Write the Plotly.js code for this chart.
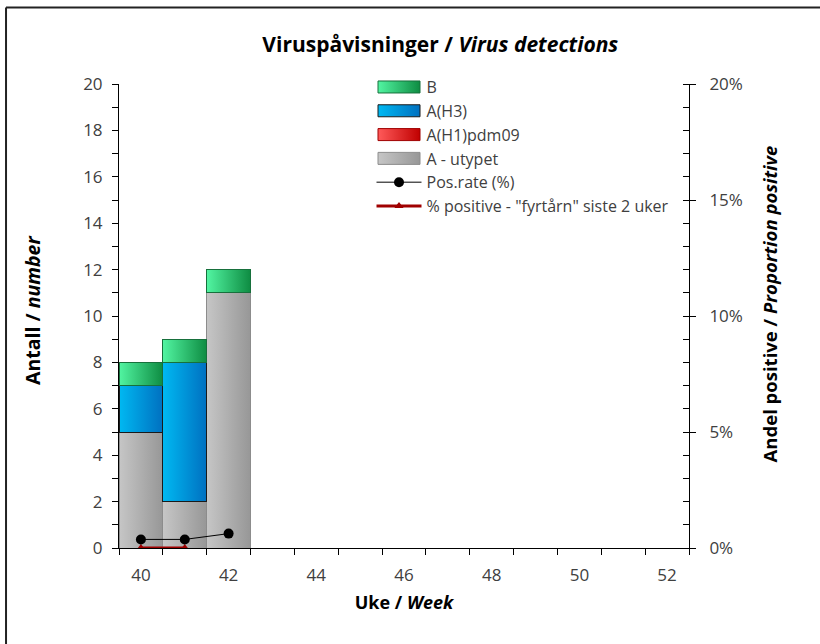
<!DOCTYPE html>
<html>
<head>
<meta charset="utf-8">
<script src="https://cdn.plot.ly/plotly-3.0.1.min.js"></script>
<style>html,body{margin:0;padding:0;background:#fff;}#chart{width:820px;height:644px;}</style>
</head>
<body>
<div id="chart"></div>
<script>
const weeks = [40, 41, 42];
const bValues = [1, 1, 1];
const aH3Values = [2, 6, 0];
const aH1pdm09Values = [0, 0, 0];
const aUntypedValues = [5, 2, 11];
const posRate = [0.0037, 0.0037, 0.0062];
const fyrtarnRate = [0, 0, null];
const xTickVals = [40, 42, 44, 46, 48, 50, 52];
const xTickText = ['40', '42', '44', '46', '48', '50', '52'];
const xBoundaries = [39.5, 40.5, 41.5, 42.5, 43.5, 44.5, 45.5, 46.5, 47.5, 48.5, 49.5, 50.5, 51.5, 52.5];

const FONT = '"Open Sans", "Noto Sans", sans-serif';
const TXT = '#404040';

const traces = [
  {type: 'bar', name: 'A - utypet', x: weeks, y: aUntypedValues, legendrank: 4,
   marker: {color: '#ADADAD', line: {color: '#8C8C8C', width: 1}}},
  {type: 'bar', name: 'A(H1)pdm09', x: weeks, y: aH1pdm09Values, legendrank: 3,
   marker: {color: '#E82020', line: {color: '#A00000', width: 1}}},
  {type: 'bar', name: 'A(H3)', x: weeks, y: aH3Values, legendrank: 2,
   marker: {color: '#0092D6', line: {color: '#1A1A1A', width: 1}}},
  {type: 'bar', name: 'B', x: weeks, y: bValues, legendrank: 1,
   marker: {color: '#2FC776', line: {color: '#17703C', width: 1}}},
  {type: 'scatter', mode: 'lines+markers', name: '% positive - "fyrtårn" siste 2 uker', x: weeks, y: fyrtarnRate,
   yaxis: 'y2', legendrank: 6, line: {color: '#A00000', width: 3},
   marker: {symbol: 'triangle-up', size: 8, color: '#A00000'}},
  {type: 'scatter', mode: 'lines+markers', name: 'Pos.rate (%)', x: weeks, y: posRate,
   yaxis: 'y2', legendrank: 5, line: {color: '#000000', width: 1},
   marker: {symbol: 'circle', size: 10, color: '#000000'}}
];

const layout = {
  width: 820, height: 644,
  margin: {l: 119, r: 131, t: 84, b: 96},
  paper_bgcolor: '#ffffff', plot_bgcolor: '#ffffff',
  font: {family: FONT, color: TXT, size: 16},
  barmode: 'stack', bargap: 0,
  title: {text: '<b>Viruspåvisninger / <i>Virus detections</i></b>', x: 0.537, xref: 'container',
          y: 0.93, yref: 'container', xanchor: 'center', yanchor: 'middle',
          font: {family: FONT, size: 21, color: '#000000'}},
  xaxis: {range: [39.5, 52.5], tickmode: 'array', tickvals: xTickVals, ticktext: xTickText,
          ticks: '', showgrid: false, zeroline: false, showline: true, linecolor: '#000', linewidth: 1,
          ticklabelstandoff: 12, tickfont: {size: 17, color: TXT},
          minor: {tickmode: 'array', tickvals: xBoundaries, ticks: 'outside', ticklen: 6, tickcolor: '#000', tickwidth: 1, showgrid: false},
          title: {text: '<b>Uke / <i>Week</i></b>', font: {size: 18, color: '#000'}, standoff: 10}},
  yaxis: {range: [0, 20], dtick: 2, ticks: 'outside', ticklen: 6, tickcolor: '#000', showgrid: false,
          zeroline: false, showline: true, linecolor: '#000', linewidth: 1, ticklabelstandoff: 6,
          tickfont: {size: 17, color: TXT},
          minor: {dtick: 1, ticks: 'outside', ticklen: 6, tickcolor: '#000', showgrid: false}},
  yaxis2: {range: [0, 0.2], overlaying: 'y', side: 'right', dtick: 0.05, tickformat: '.0%',
           ticks: 'outside', ticklen: 6, tickcolor: '#000', showgrid: false, zeroline: false,
           showline: true, linecolor: '#000', linewidth: 1, ticklabelstandoff: 10,
           tickfont: {size: 17, color: TXT},
           minor: {dtick: 0.01, ticks: 'inside', ticklen: 6, tickcolor: '#000', showgrid: false}},
  yaxis3: {range: [0, 0.2], overlaying: 'y', side: 'right', anchor: 'x', dtick: 0.05,
           ticks: 'inside', ticklen: 6, tickcolor: '#000', showticklabels: false, showgrid: false,
           zeroline: false, showline: false},
  annotations: [
    {text: '<b>Antall / <i>number</i></b>', xref: 'paper', yref: 'paper', x: -0.151, y: 0.513,
     xanchor: 'center', yanchor: 'middle', textangle: -90, showarrow: false, font: {size: 19.5, color: '#000'}},
    {text: '<b>Andel positive / <i>Proportion positive</i></b>', xref: 'paper', yref: 'paper', x: 1.142, y: 0.527,
     xanchor: 'center', yanchor: 'middle', textangle: -90, showarrow: false, font: {size: 18.5, color: '#000'}}
  ],
  legend: {x: 0.443, y: 1.03, xanchor: 'left', yanchor: 'top', bgcolor: 'rgba(0,0,0,0)', itemwidth: 45,
           font: {size: 16, color: TXT}, traceorder: 'normal', tracegroupgap: 0},
  showlegend: true,
  shapes: [
    {type: 'line', xref: 'paper', yref: 'paper', x0: -0.1982, x1: -0.1982, y0: -0.21, y1: 1.1649, line: {color: '#222', width: 2}},
    {type: 'line', xref: 'paper', yref: 'paper', x0: -0.1982, x1: 1.235, y0: 1.1649, y1: 1.1649, line: {color: '#222', width: 2}}
  ]
};

// horizontal gradient stops per bar series (styling only)
const gradients = {
  'A - utypet': ['#C6C6C6', '#979797'],
  'A(H1)pdm09': ['#FF5A5A', '#C00000'],
  'A(H3)': ['#00B9F2', '#0070C0'],
  'B': ['#52F5A2', '#0E8C42']
};

Plotly.newPlot('chart', traces, layout, {displayModeBar: false, staticPlot: true}).then(function (gd) {
  const svg = gd.querySelector('svg.main-svg');
  const ns = 'http://www.w3.org/2000/svg';
  let defs = svg.querySelector('defs');
  if (!defs) { defs = document.createElementNS(ns, 'defs'); svg.insertBefore(defs, svg.firstChild); }
  const ids = {};
  Object.keys(gradients).forEach(function (name, i) {
    const g = document.createElementNS(ns, 'linearGradient');
    const id = 'barGrad' + i;
    g.setAttribute('id', id);
    g.setAttribute('x1', '0'); g.setAttribute('y1', '0'); g.setAttribute('x2', '1'); g.setAttribute('y2', '0');
    gradients[name].forEach(function (c, k) {
      const s = document.createElementNS(ns, 'stop');
      s.setAttribute('offset', k === 0 ? '0' : '1');
      s.setAttribute('stop-color', c);
      g.appendChild(s);
    });
    defs.appendChild(g);
    ids[name] = id;
  });
  const barTraces = gd.querySelectorAll('.barlayer .trace');
  const barData = gd._fullData.filter(function (t) { return t.type === 'bar'; });
  barTraces.forEach(function (tr, i) {
    const nm = barData[i] && barData[i].name;
    if (ids[nm]) tr.querySelectorAll('path').forEach(function (p) { p.style.fill = 'url(#' + ids[nm] + ')'; });
  });
  // legend swatches: wide rectangles like the original, lines as long as them
  gd.querySelectorAll('.legend .traces').forEach(function (tr) {
    const d = tr.__data__ && tr.__data__[0] && tr.__data__[0].trace;
    if (!d) return;
    if (d.type === 'bar') {
      tr.querySelectorAll('.legendpoints path').forEach(function (p) {
        p.setAttribute('d', 'M-21,6H21V-6H-21Z');
        if (ids[d.name]) p.style.fill = 'url(#' + ids[d.name] + ')';
      });
    } else {
      tr.querySelectorAll('.legendlines path').forEach(function (p) { p.setAttribute('d', 'M5,0h45'); });
    }
  });
});
</script>
</body>
</html>
